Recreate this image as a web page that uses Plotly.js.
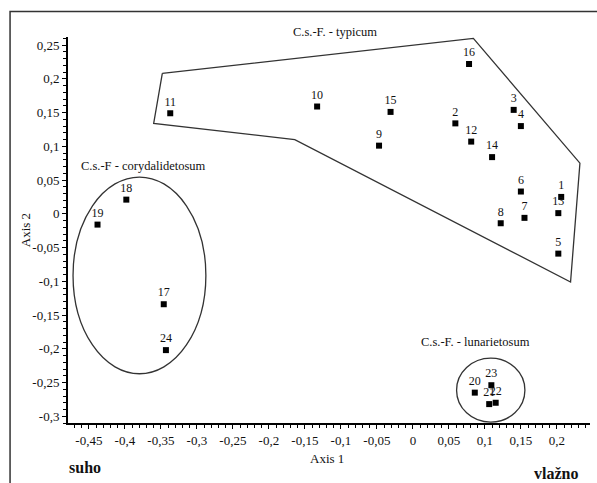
<!DOCTYPE html>
<html>
<head>
<meta charset="utf-8">
<script src="https://cdn.plot.ly/plotly-3.0.1.min.js"></script>
<style>html,body{margin:0;padding:0;background:#fff;}#chart{width:597px;height:483px;}</style>
</head>
<body>
<div id="chart"></div>
<script>
// Relevé labels and ordination scores
var releveLabels = ['1','2','3','4','5','6','7','8','9','10','11','12','13','14','15','16','17','18','19','20','21','22','23','24'];
var axis1Scores = [0.206, 0.059, 0.140, 0.150, 0.202, 0.150, 0.155, 0.122, -0.047, -0.133, -0.337, 0.081, 0.202, 0.110, -0.031, 0.078, -0.346, -0.398, -0.438, 0.086, 0.106, 0.115, 0.109, -0.343];
var axis2Scores = [0.025, 0.134, 0.154, 0.130, -0.059, 0.033, -0.006, -0.014, 0.101, 0.159, 0.149, 0.107, 0.001, 0.084, 0.151, 0.222, -0.134, 0.021, -0.016, -0.265, -0.282, -0.280, -0.254, -0.202];

// Group outline (typicum) hull vertices
var hullX = [-0.348, 0.084, 0.232, 0.219, -0.164, -0.360, -0.348];
var hullY = [0.208, 0.260, 0.075, -0.101, 0.110, 0.134, 0.208];

// Ellipse bounds: corydalidetosum and lunarietosum
var coryBox = [-0.472, -0.2875, -0.237, 0.0545];
var lunaBox = [0.0607, 0.1556, -0.3087, -0.214];

// Tick values and labels
var xTickVals = [-0.45, -0.4, -0.35, -0.3, -0.25, -0.2, -0.15, -0.1, -0.05, 0, 0.05, 0.1, 0.15, 0.2];
var xTickText = ['-0,45', '-0,4', '-0,35', '-0,3', '-0,25', '-0,2', '-0,15', '-0,1', '-0,05', '0', '0,05', '0,1', '0,15', '0,2'];
var yTickVals = [-0.3, -0.25, -0.2, -0.15, -0.1, -0.05, 0, 0.05, 0.1, 0.15, 0.2, 0.25];
var yTickText = ['-0,3', '-0,25', '-0,2', '-0,15', '-0,1', '-0,05', '0', '0,05', '0,1', '0,15', '0,2', '0,25'];

// Group labels
var groupNames = ['C.s.-F. - typicum', 'C.s.-F - corydalidetosum', 'C.s.-F. - lunarietosum'];

var FONT = 'Liberation Serif, Times New Roman, serif';
var lineCol = '#333333';

var traces = [
  {
    x: hullX, y: hullY, mode: 'lines', type: 'scatter',
    line: {color: lineCol, width: 1.3}, hoverinfo: 'skip', showlegend: false
  },
  {
    x: axis1Scores, y: axis2Scores, text: releveLabels,
    mode: 'markers+text', type: 'scatter', textposition: 'top center',
    cliponaxis: false,
    marker: {symbol: 'square', size: 6, color: '#000'},
    textfont: {family: FONT, size: 12, color: '#111'},
    showlegend: false
  }
];

function note(text, x, y, size, angle) {
  return {x: x, y: y, xref: 'paper', yref: 'paper', xanchor: 'center', yanchor: 'middle',
    text: text, showarrow: false, textangle: angle || 0,
    font: {family: FONT, size: size, color: '#111'}};
}

var annotations = [
  note(groupNames[0], 0.5115, 1.014, 12.5),
  note(groupNames[1], 0.1437, 0.6665, 12.5),
  note(groupNames[2], 0.7816, 0.210, 12.5),
  note('Axis 1', 0.496, -0.091, 13),
  note('Axis 2', -0.082, 0.5, 13, -90),
  note('<b>suho</b>', 0.033, -0.114, 16),
  note('<b>vlažno</b>', 0.935, -0.130, 16)
];

var layout = {
  width: 597, height: 483,
  margin: {l: 68, r: 7, t: 37.4, b: 60},
  paper_bgcolor: '#fff', plot_bgcolor: '#fff',
  font: {family: FONT, size: 13, color: '#111'},
  xaxis: {
    range: [-0.479, 0.246], showgrid: false, zeroline: false,
    showline: true, linecolor: '#000', linewidth: 2,
    tickmode: 'array', tickvals: xTickVals, ticktext: xTickText,
    ticks: 'outside', ticklen: 4, tickwidth: 1, tickcolor: '#000',
    minor: {dtick: 0.01, tick0: 0, ticks: 'outside', ticklen: 3, tickcolor: '#000', tickwidth: 1, showgrid: false},
    tickfont: {family: FONT, size: 13, color: '#111'}
  },
  yaxis: {
    range: [-0.31, 0.262], showgrid: false, zeroline: false,
    showline: true, linecolor: '#000', linewidth: 2,
    tickmode: 'array', tickvals: yTickVals, ticktext: yTickText,
    ticks: 'outside', ticklen: 4, tickwidth: 1, tickcolor: '#000',
    minor: {dtick: 0.01, tick0: 0, ticks: 'outside', ticklen: 3, tickcolor: '#000', tickwidth: 1, showgrid: false},
    tickfont: {family: FONT, size: 13, color: '#111'}
  },
  shapes: [
    {type: 'circle', xref: 'x', yref: 'y', x0: coryBox[0], x1: coryBox[1], y0: coryBox[2], y1: coryBox[3], line: {color: lineCol, width: 1.3}},
    {type: 'circle', xref: 'x', yref: 'y', x0: lunaBox[0], x1: lunaBox[1], y0: lunaBox[2], y1: lunaBox[3], line: {color: lineCol, width: 1.3}},
    {type: 'rect', xref: 'paper', yref: 'paper', x0: -0.111, x1: 1.2, y0: -0.4, y1: 1.066, line: {color: '#333', width: 1.5}, layer: 'below'}
  ],
  annotations: annotations
};

Plotly.newPlot('chart', traces, layout, {displayModeBar: false, staticPlot: true});
</script>
</body>
</html>
